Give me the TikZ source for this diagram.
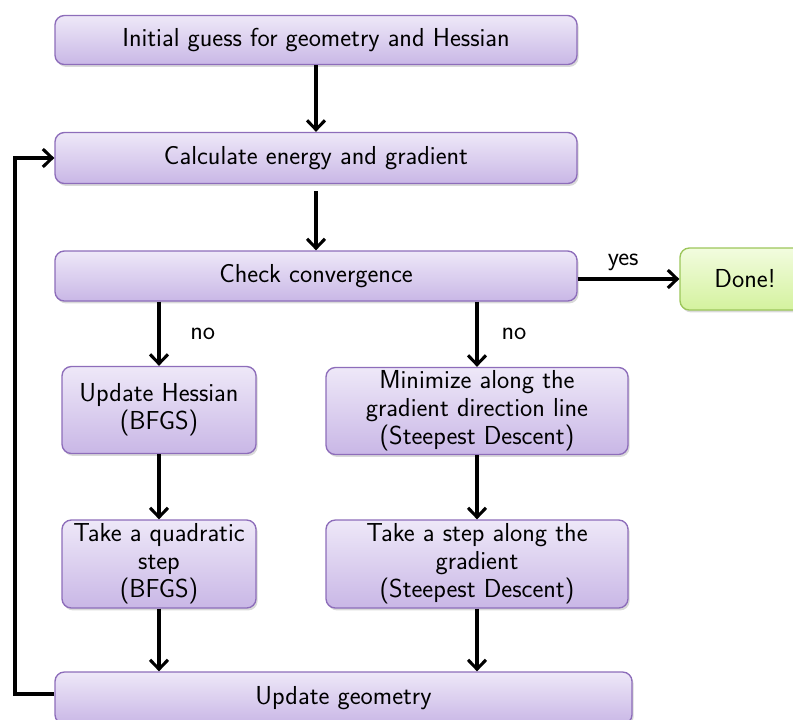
\documentclass[tikz,border=0pt]{standalone}
\usetikzlibrary{arrows.meta,shadows}
\definecolor{boxtop}{HTML}{EEE8F8}
\definecolor{boxbot}{HTML}{C9B7E6}
\definecolor{boxline}{HTML}{8D6DBA}
\definecolor{donetop}{HTML}{F2FCDF}
\definecolor{donebot}{HTML}{D4F29E}
\definecolor{doneline}{HTML}{9CC65A}
\begin{document}
\begin{tikzpicture}[x=0.75pt,y=-0.75pt,
  font=\sffamily\fontsize{19.5}{21}\selectfont,
  box/.style={draw=boxline, line width=1pt, rounded corners=7pt,
    top color=boxtop, bottom color=boxbot, align=center, inner sep=0pt,
    drop shadow={opacity=0.3, shadow xshift=1.2pt, shadow yshift=-1.8pt}},
  donebox/.style={draw=doneline, line width=1pt, rounded corners=7pt,
    top color=donetop, bottom color=donebot, align=center, inner sep=0pt,
    drop shadow={opacity=0.3, shadow xshift=1.2pt, shadow yshift=-1.8pt}},
  tip/.tip={Straight Barb[length=7pt, width=13.5pt, line width=2.3pt]},
  arr/.style={line width=2.3pt, -tip},
  lbl/.style={font=\sffamily\fontsize{19.5}{21}\selectfont}]
\useasboundingbox (0,0) rectangle (793,719);
\node[box, minimum width=522*0.75pt, minimum height=49*0.75pt] (init) at (316,40) {Initial guess for geometry and Hessian};
\node[box, minimum width=522*0.75pt, minimum height=51*0.75pt] (calc) at (316,158) {Calculate energy and gradient};
\node[box, minimum width=522*0.75pt, minimum height=50*0.75pt] (check) at (316,276) {Check convergence};
\node[donebox, minimum width=130*0.75pt, minimum height=62*0.75pt] (done) at (745,279) {Done!};
\node[box, minimum width=194*0.75pt, minimum height=87*0.75pt] (hess) at (159,410) {Update Hessian\\(BFGS)};
\node[box, minimum width=302*0.75pt, minimum height=87*0.75pt] (mini) at (477,411) {Minimize along the\\gradient direction line\\(Steepest Descent)};
\node[box, minimum width=194*0.75pt, minimum height=88*0.75pt] (quad) at (159,564) {Take a quadratic\\step\\(BFGS)};
\node[box, minimum width=302*0.75pt, minimum height=88*0.75pt] (sd) at (477,564) {Take a step along the\\gradient\\(Steepest Descent)};
\node[box, minimum width=577*0.75pt, minimum height=52*0.75pt] (geom) at (343.5,698) {Update geometry};
\coordinate (loopb) at (15,694);
\coordinate (loopt) at (15,158);
\draw[arr] (init) -- (calc);
\draw[arr] (calc.south) ++(0,7) -- (check);
\draw[arr] (check.south -| hess) -- node[lbl, right=19pt] {no} (hess);
\draw[arr] (check.south -| mini) -- node[lbl, right=14pt] {no} (mini);
\draw[arr] (check.east |- done) -- node[lbl, above=2pt, xshift=-4pt] {yes} (done);
\draw[arr] (hess) -- (quad);
\draw[arr] (mini) -- (sd);
\draw[arr] (quad) -- (quad |- geom.north);
\draw[arr] (sd) -- (sd |- geom.north);
\draw[arr] (geom.west |- loopb) -- (loopb) -- (loopt) -- (calc.west);
\end{tikzpicture}
\end{document}
